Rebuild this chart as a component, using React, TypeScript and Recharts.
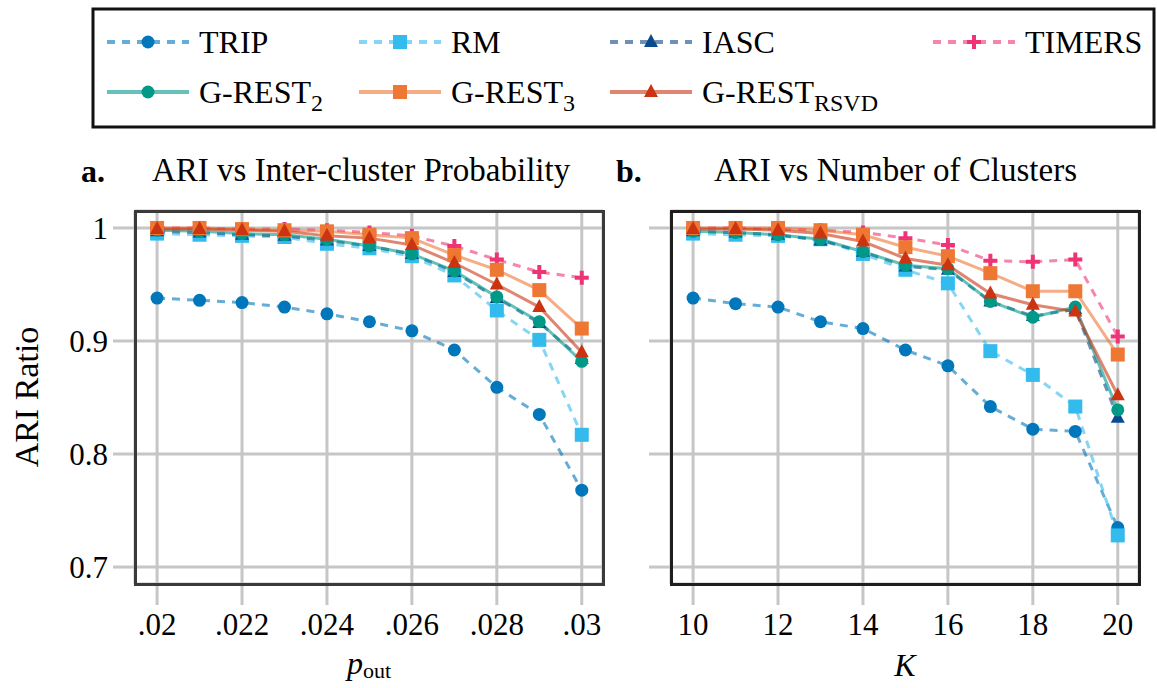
import React from 'react';
import { LineChart, Line, XAxis, YAxis, CartesianGrid } from 'recharts';

const FONT = '"Liberation Serif", "DejaVu Serif", serif';

// x values
const pOut = [0.02, 0.021, 0.022, 0.023, 0.024, 0.025, 0.026, 0.027, 0.028, 0.029, 0.03];
const clusters = [10, 11, 12, 13, 14, 15, 16, 17, 18, 19, 20];

// panel a: ARI vs inter-cluster probability
const tripA = [0.938, 0.936, 0.934, 0.93, 0.924, 0.917, 0.909, 0.892, 0.859, 0.835, 0.768];
const rmA = [0.995, 0.994, 0.993, 0.992, 0.986, 0.982, 0.975, 0.958, 0.927, 0.901, 0.817];
const iascA = [0.997, 0.996, 0.994, 0.993, 0.989, 0.984, 0.977, 0.961, 0.938, 0.916, 0.884];
const timersA = [1.0, 1.0, 0.999, 0.999, 0.998, 0.996, 0.993, 0.984, 0.972, 0.961, 0.956];
const grest2A = [0.998, 0.997, 0.995, 0.994, 0.99, 0.984, 0.977, 0.962, 0.939, 0.917, 0.882];
const grest3A = [1.0, 1.0, 0.999, 0.998, 0.997, 0.994, 0.991, 0.976, 0.963, 0.945, 0.911];
const rsvdA = [0.999, 0.999, 0.998, 0.997, 0.993, 0.991, 0.985, 0.969, 0.95, 0.93, 0.89];

// panel b: ARI vs number of clusters
const tripB = [0.938, 0.933, 0.93, 0.917, 0.911, 0.892, 0.878, 0.842, 0.822, 0.82, 0.735];
const rmB = [0.995, 0.994, 0.993, 0.99, 0.977, 0.963, 0.951, 0.891, 0.87, 0.842, 0.728];
const iascB = [0.997, 0.996, 0.994, 0.989, 0.979, 0.966, 0.963, 0.935, 0.922, 0.928, 0.832];
const timersB = [1.0, 1.0, 0.999, 0.998, 0.996, 0.991, 0.985, 0.971, 0.97, 0.972, 0.904];
const grest2B = [0.997, 0.996, 0.994, 0.99, 0.979, 0.967, 0.964, 0.935, 0.921, 0.93, 0.839];
const grest3B = [1.0, 1.0, 1.0, 0.998, 0.994, 0.983, 0.975, 0.96, 0.944, 0.944, 0.888];
const rsvdB = [0.999, 0.999, 0.998, 0.995, 0.988, 0.973, 0.967, 0.942, 0.932, 0.926, 0.852];

const pOutTicks = [0.02, 0.022, 0.024, 0.026, 0.028, 0.03];
const kTicks = [10, 12, 14, 16, 18, 20];
const yTicks = [0.7, 0.8, 0.9, 1];

type Shape = 'circle' | 'square' | 'triangle' | 'plus';

interface SeriesDef {
  key: string;
  color: string;
  shape: Shape;
  dashed: boolean;
}

const SERIES: SeriesDef[] = [
  { key: 'trip', color: '#0077bb', shape: 'circle', dashed: true },
  { key: 'rm', color: '#33bbee', shape: 'square', dashed: true },
  { key: 'iasc', color: '#0b4a8c', shape: 'triangle', dashed: true },
  { key: 'timers', color: '#ee3377', shape: 'plus', dashed: true },
  { key: 'grest2', color: '#009988', shape: 'circle', dashed: false },
  { key: 'grest3', color: '#ee7733', shape: 'square', dashed: false },
  { key: 'rsvd', color: '#cc3311', shape: 'triangle', dashed: false },
];

function marker(shape: Shape, color: string, cx: number, cy: number, key?: string) {
  switch (shape) {
    case 'circle':
      return <circle key={key} cx={cx} cy={cy} r={6.5} fill={color} />;
    case 'square':
      return <rect key={key} x={cx - 7} y={cy - 7} width={14} height={14} fill={color} />;
    case 'triangle':
      return <polygon key={key} points={`${cx},${cy - 8} ${cx - 7},${cy + 5} ${cx + 7},${cy + 5}`} fill={color} />;
    default:
      return (
        <path key={key} d={`M${cx - 7},${cy}H${cx + 7}M${cx},${cy - 7}V${cy + 7}`} stroke={color} strokeWidth={4} />
      );
  }
}

const makeDot = (shape: Shape, color: string) => (props: any) => {
  const { cx, cy, index } = props;
  if (cx == null || cy == null) return <g key={`d-${index}`} />;
  return marker(shape, color, cx, cy, `d-${index}`);
};

function buildRows(xs: number[], cols: Record<string, number[]>) {
  return xs.map((x, i) => {
    const row: Record<string, number> = { x };
    Object.keys(cols).forEach((k) => (row[k] = cols[k][i]));
    return row;
  });
}

const dataA = buildRows(pOut, {
  trip: tripA, rm: rmA, iasc: iascA, timers: timersA, grest2: grest2A, grest3: grest3A, rsvd: rsvdA,
});
const dataB = buildRows(clusters, {
  trip: tripB, rm: rmB, iasc: iascB, timers: timersB, grest2: grest2B, grest3: grest3B, rsvd: rsvdB,
});

const GRID = '#c6c6c6';
const tickStyle = { fill: '#000', fontSize: 31, fontFamily: FONT };

interface PanelProps {
  data: Record<string, number>[];
  width: number;
  xDomain: [number, number];
  xTicks: number[];
  xFormat: (v: number) => string;
  marginLeft: number;
  marginRight: number;
  yAxisWidth: number;
  yLabels: boolean;
}

function Panel({ data, width, xDomain, xTicks, xFormat, marginLeft, marginRight, yAxisWidth, yLabels }: PanelProps) {
  return (
    <LineChart
      width={width}
      height={688}
      data={data}
      margin={{ top: 211, right: marginRight, bottom: 44, left: marginLeft }}
    >
      <CartesianGrid stroke={GRID} strokeWidth={3} />
      <XAxis
        dataKey="x"
        type="number"
        domain={xDomain}
        ticks={xTicks}
        interval={0}
        allowDataOverflow
        tickFormatter={xFormat}
        axisLine={false}
        tickLine={{ stroke: GRID, strokeWidth: 3 }}
        tickSize={21}
        tickMargin={8}
        height={60}
        tick={tickStyle}
      />
      <YAxis
        type="number"
        domain={[0.685, 1.015]}
        ticks={yTicks}
        interval={0}
        allowDataOverflow
        tickFormatter={(v: number) => (yLabels ? String(v) : '')}
        axisLine={false}
        tickLine={{ stroke: GRID, strokeWidth: 3 }}
        tickSize={22}
        tickMargin={5}
        width={yAxisWidth}
        tick={tickStyle}
      />
      {SERIES.map((s) => (
        <Line
          key={s.key}
          dataKey={s.key}
          type="linear"
          stroke={s.color}
          strokeOpacity={0.6}
          strokeWidth={3}
          strokeDasharray={s.dashed ? '8 7' : undefined}
          dot={makeDot(s.shape, s.color)}
          activeDot={false}
          isAnimationActive={false}
        />
      ))}
    </LineChart>
  );
}

const LEGEND_ITEMS = [
  { s: 0, x: 107, y: 42, label: 'TRIP' },
  { s: 1, x: 359, y: 42, label: 'RM' },
  { s: 2, x: 610, y: 42, label: 'IASC' },
  { s: 3, x: 933, y: 42, label: 'TIMERS' },
  { s: 4, x: 107, y: 92, label: 'G-REST', sub: '2' },
  { s: 5, x: 359, y: 92, label: 'G-REST', sub: '3' },
  { s: 6, x: 610, y: 92, label: 'G-REST', sub: 'RSVD' },
];

function Legend() {
  return (
    <svg width={1157} height={135} style={{ position: 'absolute', left: 0, top: 0 }}>
      <rect x={93} y={9} width={1061} height={118} fill="#fff" stroke="#111" strokeWidth={3} />
      {LEGEND_ITEMS.map((it) => {
        const s = SERIES[it.s];
        return (
          <g key={it.label + it.s}>
            <line
              x1={it.x}
              x2={it.x + 82}
              y1={it.y}
              y2={it.y}
              stroke={s.color}
              strokeOpacity={0.6}
              strokeWidth={4}
              strokeDasharray={s.dashed ? '8 7' : undefined}
            />
            {marker(s.shape, s.color, it.x + 41, it.y)}
            <text x={it.x + 92} y={it.y + 11} fontFamily={FONT} fontSize={32} fill="#000">
              {it.label}
              {it.sub && (
                <tspan dy={8} fontSize={24}>
                  {it.sub}
                </tspan>
              )}
            </text>
          </g>
        );
      })}
    </svg>
  );
}

const abs = (left: number, top: number): React.CSSProperties => ({
  position: 'absolute',
  left,
  top,
  fontFamily: FONT,
  color: '#000',
  whiteSpace: 'nowrap',
  lineHeight: 1,
});

export default function App() {
  return (
    <div style={{ position: 'absolute', left: 0, top: 0, width: 1157, height: 688, background: '#fff', overflow: 'hidden' }}>
      <Legend />
      <div style={{ position: 'absolute', left: 0, top: 0 }}>
        <Panel
          data={dataA}
          width={620}
          xDomain={[0.01948, 0.0305]}
          xTicks={pOutTicks}
          xFormat={(v) => String(v).replace(/^0/, '')}
          marginLeft={60}
          marginRight={17}
          yAxisWidth={75}
          yLabels
        />
      </div>
      <div style={{ position: 'absolute', left: 620, top: 0 }}>
        <Panel
          data={dataB}
          width={537}
          xDomain={[9.48, 20.5]}
          xTicks={kTicks}
          xFormat={(v) => String(v)}
          marginLeft={0}
          marginRight={18}
          yAxisWidth={51}
          yLabels={false}
        />
      </div>
      {/* plot frames */}
      <div style={{ position: 'absolute', left: 134, top: 210, width: 471, height: 376, border: '3px solid #3a3a3a', boxSizing: 'border-box' }} />
      <div style={{ position: 'absolute', left: 670, top: 210, width: 471, height: 376, border: '3px solid #1e1e1e', boxSizing: 'border-box' }} />

      <div style={{ ...abs(81, 155), fontSize: 32, fontWeight: 'bold' }}>a.</div>
      <div style={{ ...abs(152, 154), fontSize: 33 }}>ARI vs Inter-cluster Probability</div>
      <div style={{ ...abs(616, 155), fontSize: 32, fontWeight: 'bold' }}>b.</div>
      <div style={{ ...abs(714, 154), fontSize: 33 }}>ARI vs Number of Clusters</div>

      <div
        style={{
          ...abs(27, 397),
          fontSize: 34,
          transform: 'translate(-50%, -50%) rotate(-90deg)',
        }}
      >
        ARI Ratio
      </div>
      <div style={{ ...abs(369, 647), fontSize: 32, transform: 'translateX(-50%)' }}>
        <i>p</i>
        <span style={{ fontSize: 22, position: 'relative', top: 4 }}>out</span>
      </div>
      <div style={{ ...abs(905, 649), fontSize: 32, transform: 'translateX(-50%)' }}>
        <i>K</i>
      </div>
    </div>
  );
}
